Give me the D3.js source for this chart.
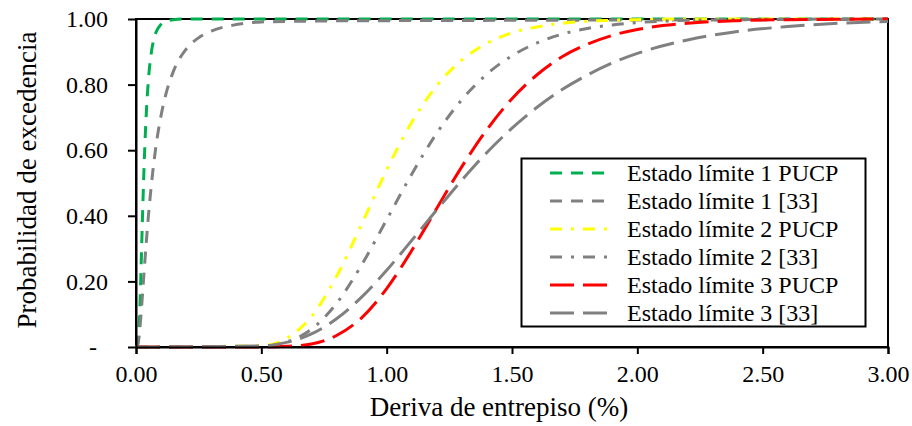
<!DOCTYPE html>
<html>
<head>
<meta charset="utf-8">
<script src="https://cdn.jsdelivr.net/npm/d3@7"></script>
<style>
  html, body { margin: 0; padding: 0; background: #fff; }
  svg { display: block; font-family: "Liberation Serif", "Times New Roman", serif; }
</style>
</head>
<body>
<svg id="chart" width="912" height="426"></svg>
<script>
// Fragility curves: probability of exceedance vs inter-storey drift (%)

// Limit state 1 samples
const driftEL1PUCP = [0, 0.005, 0.01, 0.015, 0.02, 0.025, 0.03, 0.035, 0.04, 0.05, 0.06, 0.07, 0.08, 0.10, 0.12, 0.15, 0.20, 0.50, 1.00, 1.50, 2.00, 2.50, 3.00];
const probEL1PUCP  = [0, 0.001, 0.025, 0.108, 0.235, 0.372, 0.500, 0.608, 0.696, 0.819, 0.892, 0.935, 0.960, 0.984, 0.993, 0.998, 1.000, 1.000, 1.000, 1.000, 1.000, 1.000, 1.000];

const driftEL1Ref = [0, 0.01, 0.02, 0.03, 0.04, 0.05, 0.06, 0.08, 0.10, 0.12, 0.15, 0.20, 0.25, 0.30, 0.40, 0.50, 0.75, 1.00, 1.50, 2.00, 2.50, 3.00];
const probEL1Ref  = [0, 0.019, 0.099, 0.205, 0.309, 0.404, 0.485, 0.614, 0.706, 0.773, 0.842, 0.908, 0.943, 0.963, 0.983, 0.991, 0.994, 0.995, 0.996, 0.997, 0.998, 0.999];

// Limit states 2 and 3 share one drift grid
const driftEL23 = [0, 0.5, 0.6, 0.7, 0.8, 0.9, 1.0, 1.1, 1.2, 1.3, 1.4, 1.5, 1.6, 1.7, 1.8, 1.9, 2.0, 2.2, 2.4, 2.6, 2.8, 3.0];
const probEL2PUCP = [0, 0.004, 0.026, 0.093, 0.215, 0.374, 0.540, 0.685, 0.797, 0.875, 0.926, 0.958, 0.976, 0.987, 0.993, 0.996, 0.998, 1.000, 1.000, 1.000, 1.000, 1.000];
const probEL2Ref  = [0, 0.002, 0.015, 0.054, 0.133, 0.250, 0.388, 0.527, 0.652, 0.754, 0.832, 0.888, 0.927, 0.954, 0.971, 0.982, 0.989, 0.996, 0.998, 0.999, 1.000, 1.000];
const probEL3PUCP = [0, 0.000, 0.002, 0.009, 0.035, 0.089, 0.178, 0.294, 0.423, 0.550, 0.663, 0.757, 0.830, 0.885, 0.923, 0.950, 0.968, 0.987, 0.995, 0.998, 0.999, 1.000];
const probEL3Ref  = [0, 0.003, 0.014, 0.040, 0.086, 0.152, 0.234, 0.325, 0.418, 0.509, 0.593, 0.667, 0.731, 0.785, 0.829, 0.866, 0.895, 0.936, 0.962, 0.977, 0.987, 0.992];

const seriesNames = [
  "Estado límite 1 PUCP",
  "Estado límite 1 [33]",
  "Estado límite 2 PUCP",
  "Estado límite 2 [33]",
  "Estado límite 3 PUCP",
  "Estado límite 3 [33]"
];

const xTicks = [0, 0.5, 1.0, 1.5, 2.0, 2.5, 3.0];
const yTicks = [0, 0.2, 0.4, 0.6, 0.8, 1.0];

const xTitle = "Deriva de entrepiso (%)";
const yTitle = "Probabilidad de excedencia";

const zip = (xs, ys) => xs.map((x, i) => ({ x, y: ys[i] }));

const series = [
  { name: seriesNames[0], data: zip(driftEL1PUCP, probEL1PUCP), color: "#00B050", dash: "12,9" },
  { name: seriesNames[1], data: zip(driftEL1Ref, probEL1Ref),   color: "#808080", dash: "12,9" },
  { name: seriesNames[2], data: zip(driftEL23, probEL2PUCP),    color: "#FFFF00", dash: "12,9,3,9" },
  { name: seriesNames[3], data: zip(driftEL23, probEL2Ref),     color: "#808080", dash: "12,9,3,9" },
  { name: seriesNames[4], data: zip(driftEL23, probEL3PUCP),    color: "#FF0000", dash: "24,9" },
  { name: seriesNames[5], data: zip(driftEL23, probEL3Ref),     color: "#808080", dash: "24,9" }
];

const svg = d3.select("#chart");
const plot = { left: 136, right: 888, top: 19, bottom: 347 };

const x = d3.scaleLinear().domain([0, 3]).range([plot.left, plot.right]);
const y = d3.scaleLinear().domain([0, 1]).range([plot.bottom, plot.top]);

// plot-area frame
svg.append("rect")
  .attr("x", plot.left).attr("y", plot.top)
  .attr("width", plot.right - plot.left).attr("height", plot.bottom - plot.top)
  .attr("fill", "none").attr("stroke", "#000").attr("stroke-width", 2);

// curves
const line = d3.line()
  .x(d => x(d.x)).y(d => y(d.y))
  .curve(d3.curveMonotoneX);

svg.append("g").selectAll("path")
  .data(series)
  .join("path")
  .attr("d", d => line(d.data))
  .attr("fill", "none")
  .attr("stroke", d => d.color)
  .attr("stroke-width", 3)
  .attr("stroke-dasharray", d => d.dash);

// axes
const xAxis = d3.axisBottom(x)
  .tickValues(xTicks)
  .tickFormat(d3.format(".2f"))
  .tickSize(7).tickSizeOuter(7).tickPadding(11);

const yAxis = d3.axisLeft(y)
  .tickValues(yTicks)
  .tickFormat(d => d === 0 ? "-" : d3.format(".2f")(d))
  .tickSize(8).tickSizeOuter(0).tickPadding(20);

const gx = svg.append("g").attr("transform", `translate(0,${plot.bottom})`).call(xAxis);
const gy = svg.append("g").attr("transform", `translate(${plot.left},0)`).call(yAxis);

[gx, gy].forEach(g => {
  g.selectAll("path, line").attr("stroke", "#000").attr("stroke-width", 2);
  g.selectAll("text").attr("fill", "#000")
    .style("font-family", "'Liberation Serif', 'Times New Roman', serif")
    .style("font-size", "24px");
});
gy.selectAll(".tick text").filter(d => d === 0).attr("dx", -11);

// axis titles
svg.append("text")
  .attr("x", 499)
  .attr("y", 416)
  .attr("text-anchor", "middle")
  .style("font-size", "27px")
  .text(xTitle);

svg.append("text")
  .attr("transform", `translate(36,${(plot.top + plot.bottom) / 2 - 3}) rotate(-90)`)
  .attr("text-anchor", "middle")
  .style("font-size", "27px")
  .text(yTitle);

// legend
const legend = svg.append("g");
legend.append("rect")
  .attr("x", 521.5).attr("y", 158.5)
  .attr("width", 344).attr("height", 168)
  .attr("fill", "#fff").attr("stroke", "#000").attr("stroke-width", 2);

const rows = legend.selectAll("g.row")
  .data(series)
  .join("g")
  .attr("class", "row")
  .attr("transform", (d, i) => `translate(0,${173 + i * 28})`);

rows.append("line")
  .attr("x1", 550).attr("x2", 611)
  .attr("y1", 0).attr("y2", 0)
  .attr("stroke", d => d.color)
  .attr("stroke-width", 3)
  .attr("stroke-dasharray", d => d.dash);

rows.append("text")
  .attr("x", 627).attr("y", 8)
  .style("font-size", "24px")
  .text(d => d.name);
</script>
</body>
</html>
